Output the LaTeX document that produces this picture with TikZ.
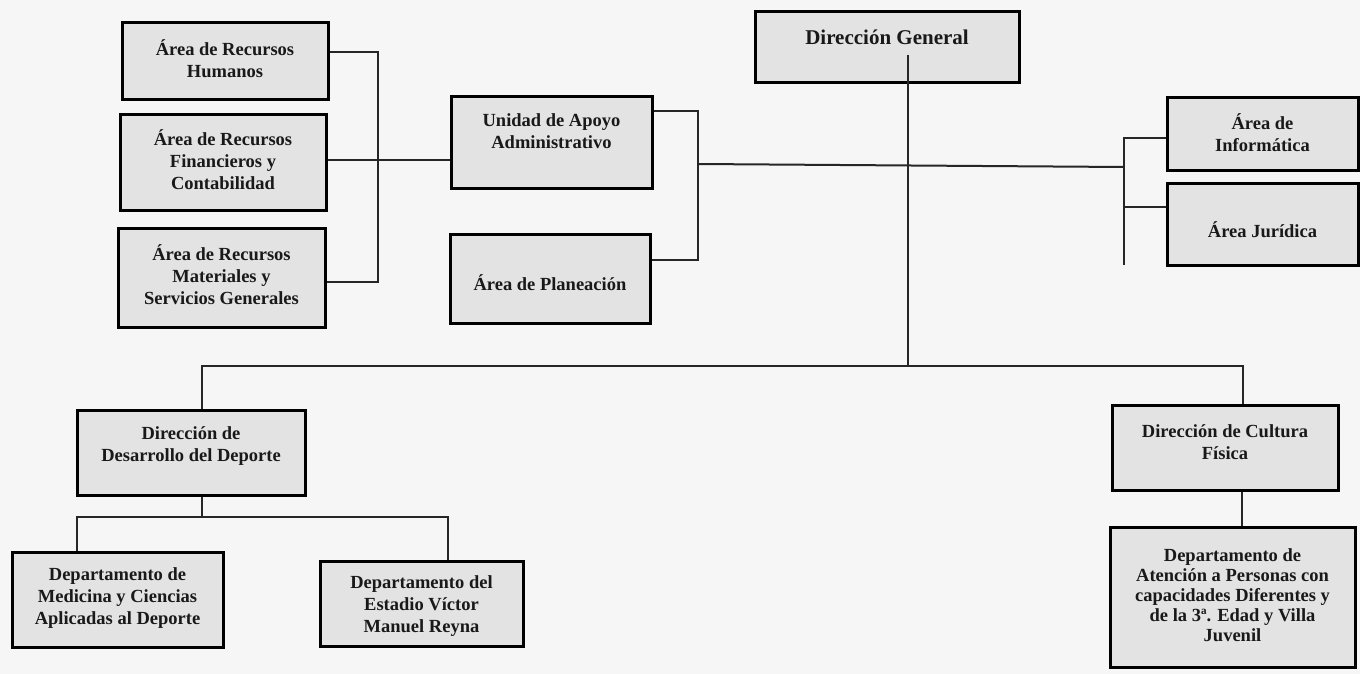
\documentclass[tikz,border=0pt]{standalone}
\usepackage{fontspec}
\setmainfont{Liberation Serif}
\definecolor{boxgray}{HTML}{E3E3E3}
\definecolor{paper}{HTML}{F6F6F6}
\newcommand{\orgbox}[8]{%
  \node[box, minimum width={(#4-#2)*1pt}, minimum height={(#5-#3)*1pt}] (#1) at ({(#2+#4)/2},{(#3+#5)/2}) {};
  \node[txt,#7] (#1-t) at ({(#2+#4)/2},{(#3+#5)/2+#6}) {#8};
}
\begin{document}
\begin{tikzpicture}[x=1pt,y=-1pt,
  box/.style={draw=black, line width=3pt, fill=boxgray, inner sep=0pt},
  txt/.style={align=center, font=\fontsize{18.5}{22}\selectfont\bfseries, inner sep=0pt, text=black!90},
  link/.style={draw=black!85, line width=2pt}]
\fill[paper] (0,0) rectangle (1360,674);
\useasboundingbox (0,0) rectangle (1360,674);

% boxes
\orgbox{hum}{122}{23}{328}{100}{-3}{}{Área de Recursos\\Humanos}
\orgbox{fin}{120}{115}{326}{210}{-2.5}{}{Área de Recursos\\Financieros y\\Contabilidad}
\orgbox{mat}{118}{228}{325}{327}{-2.5}{}{Área de Recursos\\Materiales y\\Servicios Generales}
\orgbox{uni}{451}{97}{652}{188}{-11}{}{Unidad de Apoyo\\Administrativo}
\orgbox{pla}{450}{234}{650}{323}{4}{}{Área de Planeación}
\orgbox{dg}{755}{12}{1019}{83}{-10.5}{font=\fontsize{21}{25}\selectfont\bfseries}{Dirección General}
\orgbox{inf}{1167}{98}{1358}{170}{-1}{}{Área de\\Informática}
\orgbox{jur}{1167}{183}{1358}{265}{6}{}{Área Jurídica}
\orgbox{des}{77}{410}{305}{495}{-6.5}{}{Dirección de\\Desarrollo del Deporte}
\orgbox{med}{12}{552}{223}{647}{-1.5}{}{Departamento de\\Medicina y Ciencias\\Aplicadas al Deporte}
\orgbox{est}{320}{561}{523}{646}{2.5}{}{Departamento del\\Estadio Víctor\\Manuel Reyna}
\orgbox{cul}{1112}{405}{1338}{490}{-5.5}{}{Dirección de Cultura\\Física}
\orgbox{cap}{1110}{527}{1355}{667}{-2}{font=\fontsize{18.5}{20}\selectfont\bfseries}{Departamento de\\Atención a Personas con\\capacidades Diferentes y\\de la 3ª. Edad y Villa\\Juvenil}

% junction coordinates
\coordinate (lb1) at (378,52);
\coordinate (lb2) at (378,282);
\coordinate (lb3) at (378,160);
\coordinate (mb1) at (698,111);
\coordinate (mb2) at (698,260);
\coordinate (mb3) at (698,164);
\coordinate (rb1) at (1124,138);
\coordinate (rb2) at (1124,207);
\coordinate (rb3) at (1124,167);
\coordinate (rb4) at (1124,265);
\coordinate (dgtop) at (908,55);
\coordinate (dgbot) at (908,366);
\coordinate (hl) at (202,366);
\coordinate (hr) at (1243,366);
\coordinate (db) at (202,517);
\coordinate (dl) at (77,517);
\coordinate (dr) at (448,517);

% connectors
\draw[link] (hum.east |- lb1) -- (lb1) -- (lb2) -- (mat.east |- lb2);
\draw[link] (fin.east |- lb3) -- (uni.west |- lb3);
\draw[link] (uni.east |- mb1) -- (mb1) -- (mb2) -- (pla.east |- mb2);
\draw[link] (mb3) -- (rb3);
\draw[link] (inf.west |- rb1) -- (rb1) -- (rb4);
\draw[link] (rb2) -- (jur.west |- rb2);
\draw[link] (dgtop) -- (dgbot);
\draw[link] (des.north -| hl) -- (hl) -- (hr) -- (cul.north -| hr);
\draw[link] (des.south -| db) -- (db);
\draw[link] (med.north -| dl) -- (dl) -- (dr) -- (est.north -| dr);
\draw[link] (cul.south -| 1242,0) -- (cap.north -| 1242,0);
\end{tikzpicture}
\end{document}
